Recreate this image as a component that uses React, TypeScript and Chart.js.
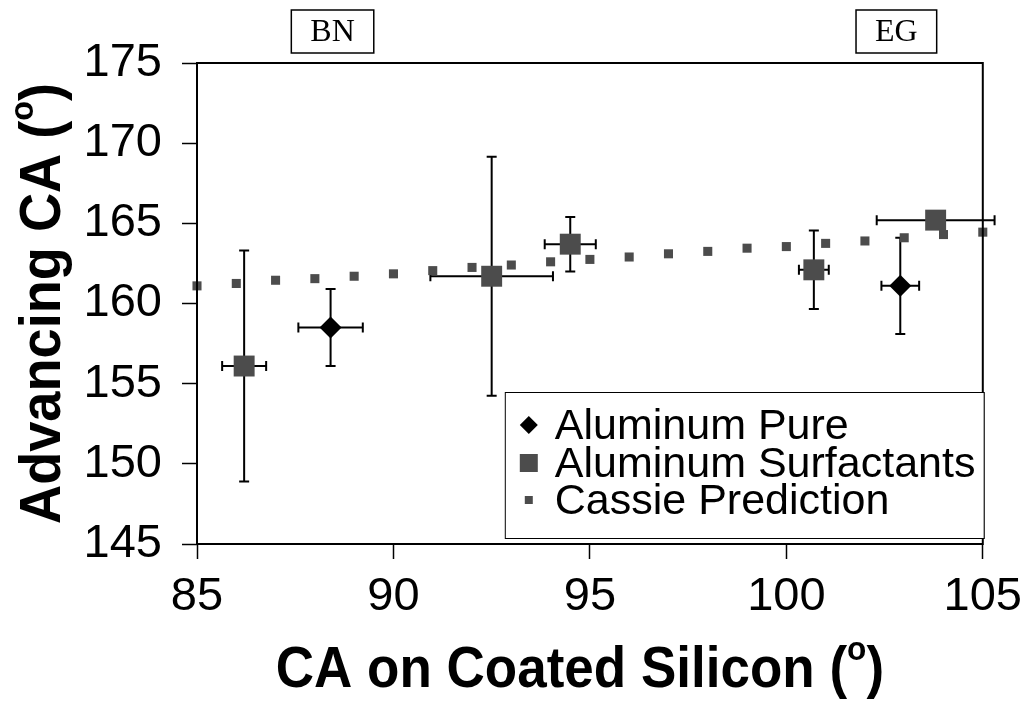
import React, { useEffect, useRef } from "react";
import { Chart, registerables } from "chart.js";

Chart.register(...registerables);

// Aluminum Pure (diamonds) with x / y error half-widths
const pureX = [88.4, 102.9];
const pureY = [158.5, 161.1];
const pureXErr = [0.82, 0.48];
const pureYErr = [2.4, 3.0];

// Aluminum Surfactants (large squares)
const surfX = [86.2, 92.5, 94.5, 100.7, 103.8];
const surfY = [156.1, 161.7, 163.7, 162.1, 165.2];
const surfXErr = [0.56, 1.56, 0.65, 0.38, 1.5];
const surfYErr = [7.2, 7.45, 1.7, 2.45, 0];

// Cassie prediction (small squares)
const cassieX = [85, 86, 87, 88, 89, 90, 91, 92, 93, 94, 95, 96, 97, 98, 99, 100, 101, 102, 103, 104, 105];
const cassieY = [161.1, 161.25, 161.45, 161.55, 161.7, 161.85, 162.05, 162.25, 162.4, 162.6, 162.75, 162.9, 163.1, 163.25, 163.45, 163.55, 163.75, 163.9, 164.1, 164.3, 164.45];

// Boxed labels above the plot
const tagLabels = ["BN", "EG"];
const tagX = [88.45, 102.8];

const seriesNames = ["Aluminum Pure", "Aluminum Surfactants", "Cassie Prediction"];

const xTicks = [85, 90, 95, 100, 105];
const yTicks = [145, 150, 155, 160, 165, 170, 175];

const SANS = '"Liberation Sans", Arial, sans-serif';
const SERIF = '"Liberation Serif", "Times New Roman", serif';
const SQUARE_FILL = "#4c4c4c";

const errorSets = [
  { xErr: pureXErr, yErr: pureYErr },
  { xErr: surfXErr, yErr: surfYErr },
  null,
];

const errorBarPlugin = {
  id: "errorBars",
  beforeDatasetsDraw(chart: any) {
    const ctx = chart.ctx;
    const xs = chart.scales.x;
    const ys = chart.scales.y;
    ctx.save();
    ctx.strokeStyle = "#000";
    ctx.lineWidth = 2;
    chart.data.datasets.forEach((ds: any, di: number) => {
      const e = errorSets[di];
      if (!e) return;
      ds.data.forEach((p: any, i: number) => {
        const cx = xs.getPixelForValue(p.x);
        const cy = ys.getPixelForValue(p.y);
        const dy = e.yErr[i];
        const dx = e.xErr[i];
        if (dy > 0) {
          const t = ys.getPixelForValue(p.y + dy);
          const b = ys.getPixelForValue(p.y - dy);
          ctx.beginPath();
          ctx.moveTo(cx, t);
          ctx.lineTo(cx, b);
          ctx.moveTo(cx - 5, t);
          ctx.lineTo(cx + 5, t);
          ctx.moveTo(cx - 5, b);
          ctx.lineTo(cx + 5, b);
          ctx.stroke();
        }
        if (dx > 0) {
          const l = xs.getPixelForValue(p.x - dx);
          const r = xs.getPixelForValue(p.x + dx);
          ctx.beginPath();
          ctx.moveTo(l, cy);
          ctx.lineTo(r, cy);
          ctx.moveTo(l, cy - 5);
          ctx.lineTo(l, cy + 5);
          ctx.moveTo(r, cy - 5);
          ctx.lineTo(r, cy + 5);
          ctx.stroke();
        }
      });
    });
    ctx.restore();
  },
};

function drawSuperTitle(ctx: CanvasRenderingContext2D, main: string, x: number, y: number, size: number, squeeze: number) {
  // draws `main + "(" + superscript o + ")"` centred on (x, y), slightly condensed
  const big = `bold ${size}px ${SANS}`;
  const small = `bold ${Math.round(size * 0.6)}px ${SANS}`;
  ctx.save();
  ctx.translate(x, y);
  ctx.scale(squeeze, 1);
  ctx.font = big;
  const w1 = ctx.measureText(main + "(").width;
  const w3 = ctx.measureText(")").width;
  ctx.font = small;
  const w2 = ctx.measureText("o").width;
  const total = w1 + w2 + w3;
  let cx = -total / 2;
  ctx.textBaseline = "middle";
  ctx.textAlign = "left";
  ctx.font = big;
  ctx.fillText(main + "(", cx, 0);
  cx += w1;
  ctx.font = small;
  ctx.fillText("o", cx, -size * 0.36);
  cx += w2;
  ctx.font = big;
  ctx.fillText(")", cx, 0);
  ctx.restore();
}

const decorPlugin = {
  id: "decor",
  afterDraw(chart: any) {
    const ctx = chart.ctx as CanvasRenderingContext2D;
    const a = chart.chartArea;
    const xs = chart.scales.x;
    ctx.save();

    // plot frame
    ctx.strokeStyle = "#000";
    ctx.lineWidth = 2;
    ctx.strokeRect(a.left, a.top, a.right - a.left, a.bottom - a.top);

    // axis titles
    ctx.fillStyle = "#000";
    drawSuperTitle(ctx, "CA on Coated Silicon ", (a.left + a.right) / 2 - 10, 671, 57, 0.93);
    ctx.save();
    ctx.translate(44, (a.top + a.bottom) / 2);
    ctx.rotate(-Math.PI / 2);
    drawSuperTitle(ctx, "Advancing CA ", 0, 0, 57, 0.95);
    ctx.restore();

    // boxed tags above plot
    ctx.font = `32px ${SERIF}`;
    ctx.textAlign = "center";
    ctx.textBaseline = "middle";
    tagLabels.forEach((t, i) => {
      const cx = xs.getPixelForValue(tagX[i]);
      const tw = ctx.measureText(t).width;
      const bw = tw + 38;
      ctx.fillStyle = "#fff";
      ctx.fillRect(cx - bw / 2, 10, bw, 43);
      ctx.strokeStyle = "#000";
      ctx.lineWidth = 1.5;
      ctx.strokeRect(cx - bw / 2, 10, bw, 43);
      ctx.fillStyle = "#000";
      ctx.fillText(t, cx, 33);
    });

    // legend
    const lw = 479;
    const lh = 146;
    const lx = a.right + 1 - lw;
    const ly = a.bottom - 6 - lh;
    ctx.fillStyle = "#fff";
    ctx.fillRect(lx, ly, lw, lh);
    ctx.strokeStyle = "#000";
    ctx.lineWidth = 1;
    ctx.strokeRect(lx + 0.5, ly + 0.5, lw, lh);
    const rows = [33, 71, 108];
    ctx.font = `43px ${SANS}`;
    ctx.textAlign = "left";
    ctx.textBaseline = "middle";
    chart.data.datasets.forEach((ds: any, i: number) => {
      const my = ly + rows[i];
      const mx = lx + 24;
      ctx.fillStyle = ds.backgroundColor;
      if (i === 0) {
        ctx.beginPath();
        ctx.moveTo(mx - 9, my);
        ctx.lineTo(mx, my - 9);
        ctx.lineTo(mx + 9, my);
        ctx.lineTo(mx, my + 9);
        ctx.closePath();
        ctx.fill();
      } else if (i === 1) {
        ctx.fillRect(mx - 9, my - 9, 18, 18);
      } else {
        ctx.fillRect(mx - 4, my - 4, 8, 8);
      }
      ctx.fillStyle = "#000";
      ctx.fillText(ds.label, lx + 50, my + 2);
    });

    ctx.restore();
  },
};

export default function App() {
  const ref = useRef<HTMLCanvasElement | null>(null);

  useEffect(() => {
    if (!ref.current) return;
    const chart = new Chart(ref.current, {
      type: "scatter",
      data: {
        datasets: [
          {
            label: seriesNames[0],
            data: pureX.map((x, i) => ({ x, y: pureY[i] })),
            pointStyle: "rectRot",
            pointRadius: 11,
            backgroundColor: "#000",
            borderColor: "#000",
            borderWidth: 0,
          },
          {
            label: seriesNames[1],
            data: surfX.map((x, i) => ({ x, y: surfY[i] })),
            pointStyle: "rect",
            pointRadius: 14.8,
            backgroundColor: SQUARE_FILL,
            borderColor: SQUARE_FILL,
            borderWidth: 0,
          },
          {
            label: seriesNames[2],
            data: cassieX.map((x, i) => ({ x, y: cassieY[i] })),
            pointStyle: "rect",
            pointRadius: 6.4,
            backgroundColor: SQUARE_FILL,
            borderColor: SQUARE_FILL,
            borderWidth: 0,
          },
        ],
      },
      options: {
        responsive: false,
        animation: false,
        events: [],
        clip: false as any,
        layout: { padding: { left: 0, top: 63, right: 46, bottom: 0 } },
        plugins: {
          legend: { display: false },
          tooltip: { enabled: false },
        },
        scales: {
          x: {
            type: "linear",
            min: 85,
            max: 105,
            afterBuildTicks: (s: any) => {
              s.ticks = xTicks.map((v) => ({ value: v }));
            },
            afterFit: (s: any) => {
              s.height = 164;
            },
            border: { display: false },
            grid: {
              drawOnChartArea: false,
              drawTicks: true,
              tickLength: 15,
              tickWidth: 1.5,
              tickColor: "#000",
            },
            ticks: {
              color: "#000",
              font: { family: SANS, size: 47 },
              padding: 10,
              maxRotation: 0,
            },
          },
          y: {
            type: "linear",
            min: 145,
            max: 175,
            afterBuildTicks: (s: any) => {
              s.ticks = yTicks.map((v) => ({ value: v }));
            },
            afterFit: (s: any) => {
              s.width = 197;
            },
            border: { display: false },
            grid: {
              drawOnChartArea: false,
              drawTicks: true,
              tickLength: 15,
              tickWidth: 1.5,
              tickColor: "#000",
            },
            ticks: {
              color: "#000",
              font: { family: SANS, size: 47 },
              padding: 20,
            },
          },
        },
      },
      plugins: [errorBarPlugin, decorPlugin],
    });
    return () => chart.destroy();
  }, []);

  return (
    <div style={{ position: "absolute", left: 0, top: 0, width: 1032, height: 708, background: "#fff" }}>
      <canvas ref={ref} width={1032} height={708} style={{ display: "block" }} />
    </div>
  );
}
